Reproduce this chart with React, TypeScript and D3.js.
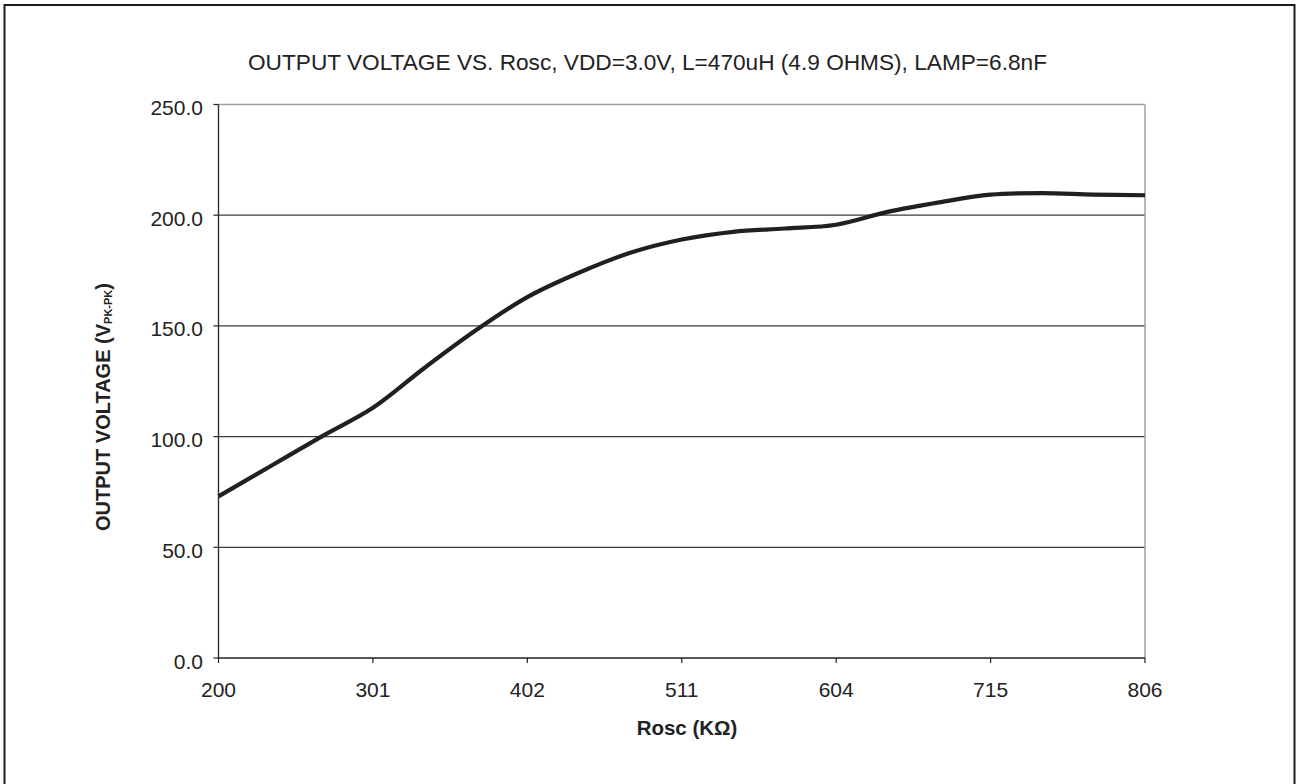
import React from 'react';
import * as d3 from 'd3';

const tickLabels = ['200', '301', '402', '511', '604', '715', '806'];
const pointsPerLabel = 3;
const voltage = [73, 86.5, 100, 113, 131, 148, 163, 174, 183, 189, 192.5, 194, 195.7, 201.5, 205.8, 209.3, 210, 209.3, 209];
const yTicks = [0, 50, 100, 150, 200, 250];
const title = 'OUTPUT VOLTAGE VS. Rosc, VDD=3.0V, L=470uH (4.9 OHMS), LAMP=6.8nF';

const W = 1297;
const H = 784;
const plot = { left: 218.5, right: 1145, top: 104.5, bottom: 658 };
const font = '"Liberation Sans", Arial, Helvetica, sans-serif';

export default function App() {
  const x = d3.scaleLinear().domain([0, voltage.length - 1]).range([plot.left, plot.right]);
  const y = d3.scaleLinear().domain([0, 250]).range([plot.bottom, plot.top]);
  const line = d3
    .line<number>()
    .x((_, i) => x(i))
    .y((d) => y(d))
    .curve(d3.curveCatmullRom.alpha(0.5));

  return (
    <div style={{ position: 'absolute', left: 0, top: 0 }}>
      <svg width={W} height={H} style={{ display: 'block', background: '#fff' }} fontFamily={font}>
        <rect x={4.5} y={5} width={1290} height={800} fill="#fff" stroke="#1a1a1a" strokeWidth={2} />
        <text
          x={647.5}
          y={69.5}
          textAnchor="middle"
          fontSize={21.5}
          fill="#222"
          textLength={799}
          lengthAdjust="spacingAndGlyphs"
        >
          {title}
        </text>
        {yTicks
          .filter((t) => t > 0 && t < 250)
          .map((t) => (
            <line key={'g' + t} x1={plot.left} x2={plot.right} y1={y(t)} y2={y(t)} stroke="#3a3a3a" strokeWidth={1.2} />
          ))}
        <line x1={plot.left} x2={plot.right} y1={y(250)} y2={y(250)} stroke="#a0a0a0" strokeWidth={1.5} />
        <line x1={plot.right} x2={plot.right} y1={plot.top} y2={plot.bottom} stroke="#a0a0a0" strokeWidth={1.5} />
        <line x1={plot.left} x2={plot.left} y1={plot.top} y2={plot.bottom} stroke="#222" strokeWidth={1.3} />
        <line x1={plot.left} x2={plot.right} y1={plot.bottom} y2={plot.bottom} stroke="#222" strokeWidth={1.3} />
        {yTicks.map((t) => (
          <g key={'y' + t}>
            <line x1={plot.left - 5} x2={plot.left} y1={y(t)} y2={y(t)} stroke="#222" strokeWidth={1.2} />
            <text x={203} y={y(t) + 10.5} textAnchor="end" fontSize={21} fill="#222">
              {t.toFixed(1)}
            </text>
          </g>
        ))}
        {tickLabels.map((lab, k) => {
          const xi = x(k * pointsPerLabel);
          return (
            <g key={'x' + lab}>
              <line x1={xi} x2={xi} y1={plot.bottom} y2={plot.bottom + 5} stroke="#222" strokeWidth={1.2} />
              <text x={xi} y={697} textAnchor="middle" fontSize={21} fill="#222">
                {lab}
              </text>
            </g>
          );
        })}
        <path d={line(voltage) || ''} fill="none" stroke="#231f20" strokeWidth={4.2} strokeLinejoin="round" />
        <text x={687} y={735} textAnchor="middle" fontSize={20.5} fontWeight="bold" fill="#222">
          Rosc (KΩ)
        </text>
        <text
          transform={`translate(110, 407) rotate(-90)`}
          textAnchor="middle"
          fontSize={20}
          fontWeight="bold"
          fill="#222"
        >
          OUTPUT VOLTAGE (V
          <tspan fontSize={11} dy={2}>PK-PK</tspan>
          <tspan dy={-2}>)</tspan>
        </text>
      </svg>
    </div>
  );
}
